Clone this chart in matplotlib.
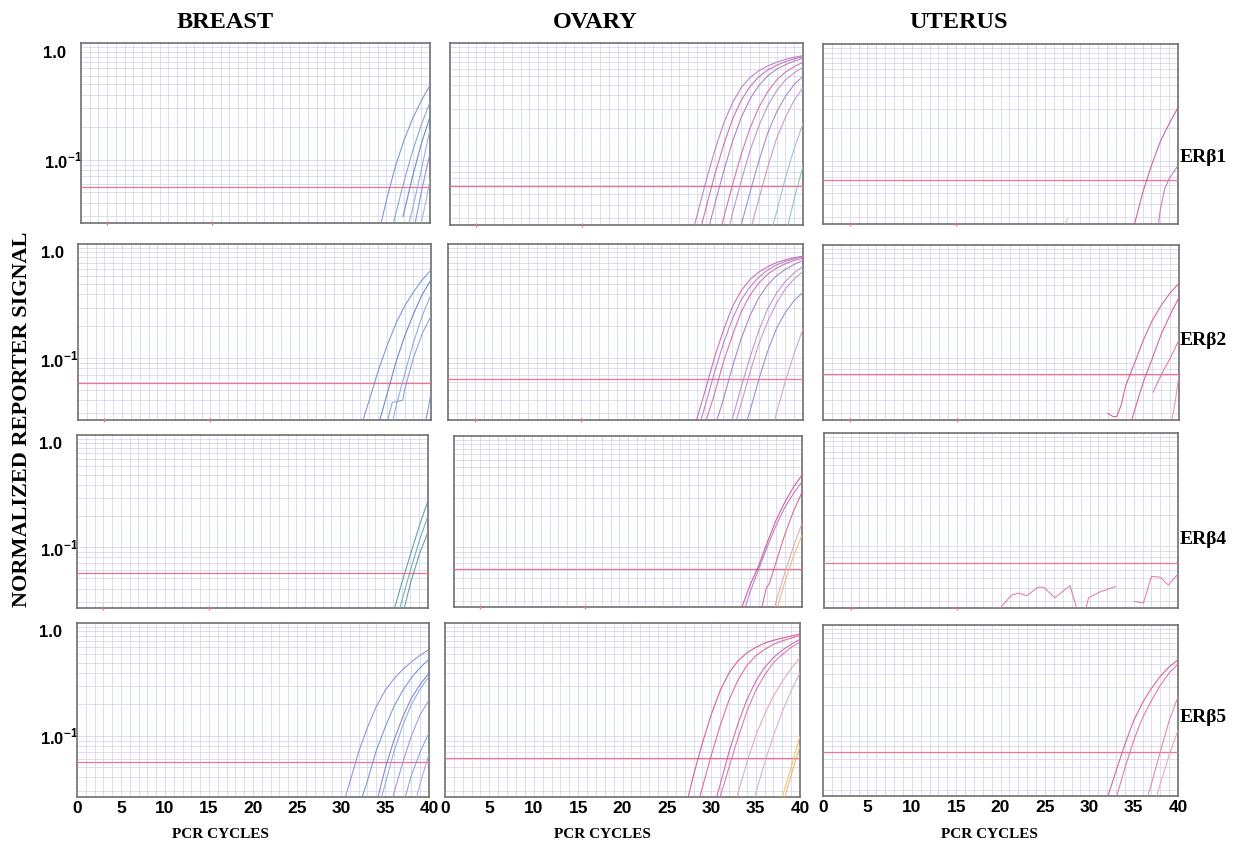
import matplotlib
matplotlib.use('Agg')
import matplotlib.pyplot as plt
from matplotlib.ticker import FixedLocator, NullFormatter, NullLocator

plt.rcParams['mathtext.fontset'] = 'custom'
plt.rcParams['mathtext.bf'] = 'Liberation Sans:bold'
plt.rcParams['mathtext.rm'] = 'Liberation Sans:bold'

# ---------------- data ----------------
tissues = ['BREAST', 'OVARY', 'UTERUS']
isoforms = ['ERβ1', 'ERβ2', 'ERβ4', 'ERβ5']
x_ticks = [0, 5, 10, 15, 20, 25, 30, 35, 40]
y_ticks = [1.0, 0.1]
y_tick_labels = ['1.0', r'1.0$^{\mathbf{-1}}$']
y_range = (0.026, 1.2)
x_range = (0, 40)
baseline_marks = [3, 15]

# threshold levels [row][col]
thresholds = [[0.0557, 0.059, 0.067],
              [0.058, 0.0635, 0.071],
              [0.056, 0.061, 0.069],
              [0.056, 0.061, 0.069]]

# each curve: (cycles, normalized reporter signal, colour)
breast_erb1 = [
    ([34.4, 35, 36, 37, 38, 39, 40], [0.026, 0.042, 0.085, 0.15, 0.24, 0.35, 0.49], '#6f8fd0'),
    ([35.8, 36, 37, 38, 39, 40], [0.026, 0.03, 0.062, 0.12, 0.21, 0.34], '#7fa0d8'),
    ([36.9, 37, 38, 39, 40], [0.03, 0.032, 0.07, 0.14, 0.25], '#5d7fc4'),
    ([37.6, 38, 39, 40], [0.026, 0.035, 0.08, 0.19], '#8aa6de'),
    ([38.3, 39, 40], [0.026, 0.05, 0.115], '#7a8fd0'),
    ([39.0, 39.5, 40], [0.026, 0.04, 0.065], '#9ab0e0'),
]
ovary_erb1 = [
    ([27.7, 28, 29, 30, 31, 32, 33, 34, 35, 36, 37, 38, 39, 40],
     [0.026, 0.032, 0.065, 0.125, 0.22, 0.34, 0.47, 0.58, 0.67, 0.74, 0.8, 0.85, 0.89, 0.92], '#b07ac8'),
    ([28.5, 29, 30, 31, 32, 33, 34, 35, 36, 37, 38, 39, 40],
     [0.026, 0.037, 0.075, 0.14, 0.24, 0.36, 0.48, 0.59, 0.68, 0.75, 0.81, 0.86, 0.9], '#c864a8'),
    ([29.4, 30, 31, 32, 33, 34, 35, 36, 37, 38, 39, 40],
     [0.026, 0.04, 0.08, 0.15, 0.25, 0.37, 0.49, 0.6, 0.69, 0.76, 0.82, 0.87], '#a678c0'),
    ([30.8, 31, 32, 33, 34, 35, 36, 37, 38, 39, 40],
     [0.026, 0.03, 0.06, 0.115, 0.2, 0.31, 0.43, 0.55, 0.65, 0.73, 0.8], '#d06aa0'),
    ([31.7, 32, 33, 34, 35, 36, 37, 38, 39, 40],
     [0.026, 0.033, 0.066, 0.125, 0.21, 0.32, 0.44, 0.55, 0.64, 0.72], '#b88cc8'),
    ([33, 34, 35, 36, 37, 38, 39, 40], [0.026, 0.052, 0.1, 0.18, 0.28, 0.39, 0.5, 0.6], '#9a86c8'),
    ([34.2, 35, 36, 37, 38, 39, 40], [0.026, 0.045, 0.088, 0.16, 0.25, 0.36, 0.47], '#c890c0'),
    ([36.6, 37, 38, 39, 40], [0.026, 0.034, 0.07, 0.13, 0.22], '#9ab8d8'),
    ([38.3, 39, 40], [0.026, 0.045, 0.09], '#88c0b8'),
]
uterus_erb1 = [
    ([35.1, 35.7, 36, 37, 38, 39, 40], [0.026, 0.04, 0.05, 0.09, 0.15, 0.22, 0.31], '#c8559a'),
    ([37.8, 38, 38.5, 39, 40], [0.026, 0.035, 0.055, 0.068, 0.09], '#c070b0'),
    ([27.2, 27.6], [0.026, 0.029], '#c8c0e0'),
]
breast_erb2 = [
    ([32.3, 33, 34, 35, 36, 37, 38, 39, 40], [0.026, 0.04, 0.075, 0.13, 0.21, 0.31, 0.42, 0.55, 0.68], '#6f8fd0'),
    ([34.2, 35, 36, 37, 38, 39, 40], [0.026, 0.045, 0.09, 0.16, 0.26, 0.4, 0.55], '#5d7fc4'),
    ([35.1, 35.6, 36.8, 37, 38, 39, 40], [0.026, 0.038, 0.04, 0.05, 0.1, 0.17, 0.25], '#7fa0d8'),
    ([35.7, 36, 37, 38, 39, 40], [0.026, 0.034, 0.07, 0.14, 0.25, 0.4], '#8aa6de'),
    ([39.4, 39.7, 40], [0.026, 0.034, 0.047], '#7a8fd0'),
]
ovary_erb2 = [
    ([28, 29, 30, 31, 32, 33, 34, 35, 36, 37, 38, 39, 40],
     [0.026, 0.05, 0.1, 0.18, 0.3, 0.43, 0.55, 0.65, 0.73, 0.8, 0.85, 0.89, 0.92], '#c864a8'),
    ([28.5, 29, 30, 31, 32, 33, 34, 35, 36, 37, 38, 39, 40],
     [0.026, 0.036, 0.072, 0.135, 0.23, 0.35, 0.47, 0.58, 0.68, 0.76, 0.82, 0.87, 0.91], '#b07ac8'),
    ([29.1, 30, 31, 32, 33, 34, 35, 36, 37, 38, 39, 40],
     [0.026, 0.045, 0.09, 0.16, 0.27, 0.39, 0.51, 0.62, 0.71, 0.78, 0.84, 0.88], '#d06aa0'),
    ([30.3, 31, 32, 33, 34, 35, 36, 37, 38, 39, 40],
     [0.026, 0.04, 0.08, 0.15, 0.25, 0.37, 0.49, 0.6, 0.69, 0.77, 0.84], '#a678c0'),
    ([32, 33, 34, 35, 36, 37, 38, 39, 40], [0.026, 0.052, 0.1, 0.18, 0.29, 0.41, 0.53, 0.64, 0.74], '#b88cc8'),
    ([32.5, 33, 34, 35, 36, 37, 38, 39, 40], [0.026, 0.036, 0.072, 0.135, 0.22, 0.33, 0.45, 0.56, 0.66], '#c890c0'),
    ([33.7, 34, 35, 36, 37, 38, 39, 40], [0.026, 0.031, 0.062, 0.115, 0.19, 0.27, 0.35, 0.42], '#9a86c8'),
    ([36.8, 37, 38, 39, 40], [0.026, 0.03, 0.06, 0.11, 0.19], '#d0a0c8'),
]
uterus_erb2 = [
    ([32.0, 32.6, 33.0, 33.5, 34, 35, 36, 37, 38, 39, 40],
     [0.03, 0.028, 0.028, 0.036, 0.055, 0.09, 0.15, 0.23, 0.32, 0.42, 0.52], '#d05890'),
    ([34.7, 35, 36, 37, 38, 39, 40], [0.026, 0.032, 0.06, 0.1, 0.17, 0.26, 0.38], '#d0559a'),
    ([37.1, 38, 39, 40], [0.048, 0.07, 0.1, 0.15], '#e07098'),
    ([39.2, 39.6, 40], [0.026, 0.04, 0.07], '#e090b0'),
]
breast_erb4 = [
    ([36.2, 37, 38, 39, 40], [0.026, 0.045, 0.085, 0.16, 0.28], '#4f9aa0'),
    ([36.8, 37, 38, 39, 40], [0.026, 0.03, 0.06, 0.115, 0.2], '#6aa8b0'),
    ([37.3, 38, 39, 40], [0.026, 0.045, 0.085, 0.14], '#5a9a8a'),
]
ovary_erb4 = [
    ([33.1, 34, 35, 36, 37, 38, 39, 40], [0.026, 0.042, 0.065, 0.11, 0.18, 0.27, 0.38, 0.5], '#c8508f'),
    ([33.5, 34, 35, 36, 37, 38, 39, 40], [0.026, 0.036, 0.06, 0.1, 0.16, 0.24, 0.33, 0.43], '#b870c0'),
    ([35.4, 35.9, 36.2, 37, 38, 39, 40], [0.026, 0.04, 0.043, 0.07, 0.13, 0.22, 0.34], '#d46090'),
    ([36.9, 37, 38, 39, 40], [0.026, 0.029, 0.055, 0.1, 0.17], '#e0a0b0'),
    ([37.2, 38, 39, 40], [0.026, 0.045, 0.08, 0.13], '#e8b870'),
]
uterus_erb4 = [
    ([18.9, 19.9, 21.2, 22.0, 22.9, 24.2, 24.8, 26.1, 27.8, 28.6],
     [0.026, 0.026, 0.0345, 0.036, 0.034, 0.041, 0.041, 0.0326, 0.0425, 0.025], '#e07898'),
    ([29.6, 29.9, 31.2, 32.9], [0.026, 0.0326, 0.037, 0.0415], '#e07898'),
    ([35.1, 36.1, 37.0, 38.0, 38.9, 40], [0.030, 0.029, 0.052, 0.051, 0.043, 0.0547], '#e07898'),
]
breast_erb5 = [
    ([30.5, 31, 32, 33, 34, 35, 36, 37, 38, 39, 40],
     [0.026, 0.036, 0.07, 0.12, 0.19, 0.27, 0.35, 0.43, 0.51, 0.59, 0.67], '#8a8ad0'),
    ([32.4, 33, 34, 35, 36, 37, 38, 39, 40], [0.026, 0.037, 0.072, 0.12, 0.19, 0.27, 0.36, 0.45, 0.54], '#6f8fd0'),
    ([34.2, 35, 36, 37, 38, 39, 40], [0.026, 0.048, 0.09, 0.15, 0.23, 0.31, 0.4], '#7d7dc8'),
    ([34.6, 35, 36, 37, 38, 39, 40], [0.026, 0.034, 0.07, 0.125, 0.2, 0.28, 0.37], '#8aa6de'),
    ([35.9, 36, 37, 38, 39, 40], [0.026, 0.028, 0.055, 0.1, 0.16, 0.22], '#9a90d8'),
    ([37.3, 38, 39, 40], [0.026, 0.042, 0.07, 0.107], '#7fa0d8'),
    ([38.6, 39, 40], [0.026, 0.035, 0.067], '#a0a8e0'),
]
ovary_erb5 = [
    ([27.4, 28, 29, 30, 31, 32, 33, 34, 35, 36, 37, 38, 39, 40],
     [0.026, 0.042, 0.085, 0.16, 0.27, 0.4, 0.52, 0.62, 0.7, 0.77, 0.82, 0.86, 0.9, 0.94], '#d0508f'),
    ([28.7, 29, 30, 31, 32, 33, 34, 35, 36, 37, 38, 39, 40],
     [0.026, 0.032, 0.065, 0.125, 0.22, 0.34, 0.47, 0.58, 0.67, 0.75, 0.81, 0.86, 0.91], '#e06090'),
    ([30.6, 31, 32, 33, 34, 35, 36, 37, 38, 39, 40],
     [0.026, 0.034, 0.07, 0.13, 0.22, 0.33, 0.45, 0.56, 0.66, 0.75, 0.84], '#c860a8'),
    ([31.0, 32, 33, 34, 35, 36, 37, 38, 39, 40],
     [0.026, 0.05, 0.095, 0.17, 0.27, 0.38, 0.5, 0.6, 0.7, 0.79], '#d870a8'),
    ([32.9, 33, 34, 35, 36, 37, 38, 39, 40], [0.026, 0.028, 0.055, 0.1, 0.16, 0.24, 0.33, 0.44, 0.56], '#e0a0b8'),
    ([34.9, 35, 36, 37, 38, 39, 40], [0.026, 0.028, 0.055, 0.1, 0.17, 0.27, 0.4], '#d8a8c8'),
    ([38.0, 39, 40], [0.026, 0.05, 0.1], '#f0c060'),
    ([38.3, 39, 40], [0.026, 0.042, 0.08], '#e8b070'),
]
uterus_erb5 = [
    ([32.1, 33, 34, 35, 36, 37, 38, 39, 40], [0.026, 0.045, 0.082, 0.14, 0.21, 0.29, 0.38, 0.47, 0.55], '#d05890'),
    ([33.1, 34, 35, 36, 37, 38, 39, 40], [0.026, 0.048, 0.09, 0.15, 0.22, 0.31, 0.41, 0.5], '#e07098'),
    ([36.6, 37, 38, 39, 40], [0.026, 0.034, 0.07, 0.14, 0.24], '#e080a8'),
    ([37.6, 38, 39, 40], [0.026, 0.034, 0.065, 0.114], '#e8a0b8'),
]

panels = [[breast_erb1, ovary_erb1, uterus_erb1],
          [breast_erb2, ovary_erb2, uterus_erb2],
          [breast_erb4, ovary_erb4, uterus_erb4],
          [breast_erb5, ovary_erb5, uterus_erb5]]

# ---------------- layout (pixels: left, right, top, bottom) ----------------
W, H = 1239, 844
boxes = [
    [(81, 430, 43, 223), (450, 803, 43, 225), (823, 1178, 44, 224)],
    [(78, 431, 244, 420), (448, 803, 244, 420), (823, 1179, 245, 420)],
    [(77, 428, 435, 608), (454, 802, 436, 607), (824, 1178, 433, 608)],
    [(77, 429, 623, 797), (445, 800, 623, 797), (823, 1178, 625, 796)],
]
title_x = [225, 595, 959]
title_y = 22
row_label_y = [157, 340, 540, 717]
xlabel_x = [220, 602, 989]
xlabel_y = 834

vgrid_color = '#d3d8ef'
hgrid_color = '#dcd8ee'
frame_color = '#707070'
thr_color = '#f27090'

fig = plt.figure(figsize=(W / 100, H / 100), dpi=100)
fig.patch.set_facecolor('white')

minor_y = [v * 10 ** e for e in (-2, -1, 0) for v in range(1, 10)] + [1.1, 1.2]

for r in range(4):
    for c in range(3):
        l, rr, t, b = boxes[r][c]
        ax = fig.add_axes([l / W, 1 - b / H, (rr - l) / W, (b - t) / H])
        ax.set_yscale('log')
        ax.set_xlim(*x_range)
        ax.set_ylim(*y_range)
        # grid
        for xv in range(1, 40):
            ax.axvline(xv, color=vgrid_color, lw=0.6, zorder=1)
        for yv in minor_y:
            if y_range[0] < yv < y_range[1]:
                ax.axhline(yv, color=hgrid_color, lw=0.6, zorder=1)
        # threshold
        ax.axhline(thresholds[r][c], color=thr_color, lw=0.9, zorder=3)
        # curves
        for xs, ys, col in panels[r][c]:
            ax.plot(xs, ys, color=col, lw=0.8, alpha=0.9, zorder=4)
        # frame
        for sp in ax.spines.values():
            sp.set_color(frame_color)
            sp.set_linewidth(1.2)
        ax.yaxis.set_minor_locator(NullLocator())
        ax.yaxis.set_minor_formatter(NullFormatter())
        ax.tick_params(axis='both', which='both', length=0)
        if c == 0:
            ax.yaxis.set_major_locator(FixedLocator(y_ticks))
            ax.set_yticklabels(y_tick_labels, fontfamily='Liberation Sans',
                               fontweight='bold', fontsize=12, ha='left')
            ax.tick_params(axis='y', pad=27)
        else:
            ax.set_yticks([])
        if r == 3:
            ax.set_xticks(x_ticks)
            ax.set_xticklabels([str(v) for v in x_ticks], fontfamily='Liberation Sans',
                               fontweight='bold', fontsize=12.5)
            ax.tick_params(axis='x', pad=3)
        else:
            ax.set_xticks([])
            ax.plot(baseline_marks, [y_range[0]] * len(baseline_marks), ls='none',
                    marker='|', ms=3, color=thr_color, clip_on=False, zorder=5)

for c in range(3):
    fig.text(title_x[c] / W, 1 - title_y / H, tissues[c], ha='center', va='center',
             fontfamily='Liberation Serif', fontweight='bold', fontsize=17.5)
    fig.text(xlabel_x[c] / W, 1 - xlabel_y / H, 'PCR CYCLES', ha='center', va='center',
             fontfamily='Liberation Serif', fontweight='bold', fontsize=11)
for r in range(4):
    fig.text(1180 / W, 1 - row_label_y[r] / H, isoforms[r], ha='left', va='center',
             fontfamily='Liberation Serif', fontweight='bold', fontsize=14)

fig.text(22 / W, 1 - 419 / H, 'NORMALIZED REPORTER SIGNAL', rotation=90,
         ha='center', va='center', fontfamily='Liberation Serif',
         fontweight='bold', fontsize=16)

fig.savefig('out.png', dpi=100, facecolor='white')
